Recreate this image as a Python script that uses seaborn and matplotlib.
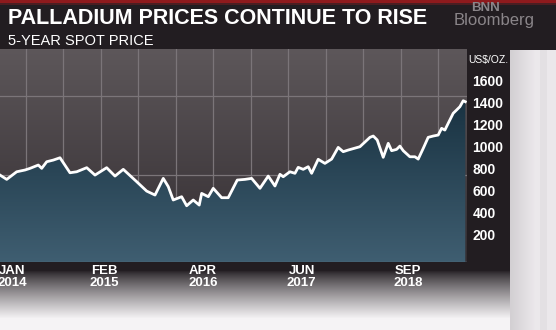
import numpy as np
import pandas as pd
import matplotlib
matplotlib.use("Agg")
import matplotlib.pyplot as plt
import seaborn as sns
from matplotlib.colors import to_rgb

# ---- data (months since Jan 2014, palladium spot price US$/oz) ----
months = [-1.70, -0.75, 0.66, 1.84, 2.55, 3.72, 4.20, 4.91, 5.84, 6.79, 8.20, 9.15,
          10.57, 11.74, 13.39, 14.57, 15.74, 17.64, 19.05, 20.23, 21.40, 22.11, 22.81,
          24.00, 24.71, 25.64, 26.49, 26.83, 27.77, 28.47, 29.66, 30.59, 31.87, 32.96,
          33.90, 35.08, 36.25, 37.20, 37.91, 38.37, 39.32, 40.03, 40.49, 41.20, 41.91,
          42.39, 43.32, 44.27, 45.22, 46.15, 46.86, 47.57, 49.22, 50.64, 51.11, 51.67,
          52.52, 53.23, 53.71, 54.41, 54.88, 55.35, 56.29, 57.00, 57.47, 58.18, 58.88,
          59.59, 60.30, 60.78, 61.24, 61.71, 62.42, 62.90, 63.37, 63.84, 64.13]
prices = [743, 704, 773, 789, 804, 834, 804, 864, 879, 900, 764, 773,
          810, 743, 810, 734, 795, 683, 598, 562, 713, 638, 517,
          547, 465, 517, 471, 577, 547, 623, 538, 538, 698, 704,
          713, 623, 734, 644, 750, 728, 773, 759, 813, 795, 819,
          759, 886, 849, 888, 994, 955, 970, 1000, 1085, 1097, 1061,
          904, 1031, 964, 976, 1006, 964, 909, 909, 888, 985, 1085,
          1097, 1106, 1167, 1151, 1212, 1303, 1333, 1363, 1417, 1408]
x_tick_pos = [0, 13, 27, 41, 56]
x_tick_labels = ["JAN\n2014", "FEB\n2015", "APR\n2016", "JUN\n2017", "SEP\n2018"]
y_ticks = [200, 400, 600, 800, 1000, 1200, 1400, 1600]
title = "PALLADIUM PRICES CONTINUE TO RISE"
subtitle = "5-YEAR SPOT PRICE"
unit = "US$/OZ."

df = pd.DataFrame({"month": months, "price": prices})

W, H = 556, 330
fig = plt.figure(figsize=(W / 100, H / 100), dpi=100)

# ---- figure background (dark panel, bottom fade, right light panel, red top bar) ----
bg = fig.add_axes([0, 0, 1, 1], zorder=-10)
bg.set_axis_off()
img = np.zeros((H, W, 3))
dark = np.array(to_rgb("#221d21"))
white = np.array(to_rgb("#f5f3f5"))
rows = np.arange(H)
t = np.clip((rows - 270) / 48.0, 0, 1) ** 0.8
img[:] = dark[None, None, :] * (1 - t[:, None, None]) + white[None, None, :] * t[:, None, None]
p_left = np.array(to_rgb("#d3cfd3"))
p_right = np.array(to_rgb("#ebe8eb"))
for c in range(510, W):
    u = min((c - 510) / 25.0, 1.0)
    shade = p_left * (1 - u) + p_right * u
    if 540 <= c <= 546:
        shade = shade - 0.03
    img[50:, c] = np.clip(shade, 0, 1)
img[0:3, :] = to_rgb("#8e1a1d")
img[3:5, :] = to_rgb("#4a1e22")
bg.imshow(img, extent=[0, 1, 0, 1], aspect="auto", transform=bg.transAxes)

# ---- main axes ----
ax = fig.add_axes([0, (H - 262) / H, 466.7 / W, (262 - 49) / H])
xmin, xmax = -1.70, 64.33
ymin, ymax = -45, 1886
ax.set_xlim(xmin, xmax)
ax.set_ylim(ymin, ymax)

# plot-area gradient background
grad = np.linspace(0, 1, 256)[:, None]
top_c = np.array(to_rgb("#5d575a"))
bot_c = np.array(to_rgb("#332d31"))
bg_img = top_c[None, None, :] * (1 - grad[:, :, None]) + bot_c[None, None, :] * grad[:, :, None]
ax.imshow(bg_img, extent=[xmin, xmax, ymin, ymax], aspect="auto", zorder=0)

# grid lines
for k in range(12):
    ax.axvline(1.98 + 5.30 * k, color="#7b7579", lw=0.9, zorder=1)
for v in [1460, 743]:
    ax.axhline(v, color="#7b7579", lw=0.9, zorder=1)

# gradient area fill clipped to the price polygon
poly = ax.fill_between(df["month"], df["price"], ymin, color="none", lw=0, zorder=2)
f_top = np.array(to_rgb("#17303f"))
f_bot = np.array(to_rgb("#3f5e71"))
fill_img = f_top[None, None, :] * (1 - grad[:, :, None]) + f_bot[None, None, :] * grad[:, :, None]
gi = ax.imshow(fill_img, extent=[xmin, xmax, ymin, 1500], aspect="auto", zorder=2)
gi.set_clip_path(poly.get_paths()[0], transform=ax.transData)

sns.lineplot(data=df, x="month", y="price", ax=ax, color="white", lw=2.0, zorder=3)

ax.set_xlim(xmin, xmax)
ax.set_ylim(ymin, ymax)
ax.set_xlabel("")
ax.set_ylabel("")
for s in ax.spines.values():
    s.set_visible(False)
ax.axhline(ymin + 4, color="#5b7383", lw=1.0, zorder=4)

ax.yaxis.tick_right()
ax.set_yticks(y_ticks)
ax.set_yticklabels([str(v) for v in y_ticks], fontsize=10, color="white",
                   fontfamily="Liberation Sans", fontweight="bold")
ax.set_xticks(x_tick_pos)
ax.set_xticklabels(x_tick_labels, fontsize=9.5, color="white",
                   fontfamily="Liberation Sans", fontweight="bold", linespacing=1.05)
ax.tick_params(axis="both", length=0)
ax.tick_params(axis="y", pad=4)
ax.tick_params(axis="x", pad=2)

# ---- texts ----
fig.text(8 / W, 1 - 24 / H, title, fontsize=15.5, fontweight="bold", color="white",
         fontfamily="Liberation Sans", va="baseline", ha="left")
fig.text(8 / W, 1 - 45 / H, subtitle, fontsize=10.5, color="white",
         fontfamily="Liberation Sans", va="baseline", ha="left")
fig.text(494 / W, 1 - 25 / H, "Bloomberg", fontsize=12, color="#8a8589",
         fontfamily="Liberation Sans", va="baseline", ha="center")
fig.text(485 / W, 1 - 11 / H, "BNN", fontsize=9.5, color="#8a8589",
         fontfamily="Liberation Sans", va="baseline", ha="center", fontweight="bold")
fig.text(468 / W, 1 - 63 / H, unit, fontsize=7.5, color="white",
         fontfamily="Liberation Sans", va="baseline", ha="left")

fig.savefig("out.png", dpi=100)
